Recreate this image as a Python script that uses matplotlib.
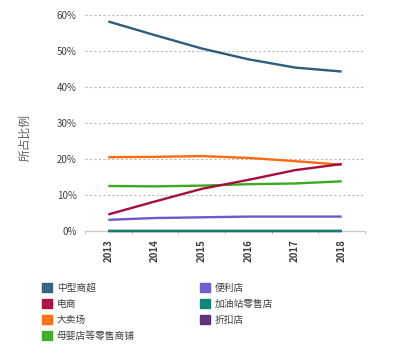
import matplotlib
matplotlib.use("Agg")
import matplotlib.pyplot as plt
from matplotlib.patches import Patch
from matplotlib.ticker import FixedLocator

plt.rcParams['font.family'] = ['Noto Sans CJK SC', 'DejaVu Sans']

years = ["2013", "2014", "2015", "2016", "2017", "2018"]
series_names = ["中型商超", "电商", "大卖场", "母婴店等零售商铺", "便利店", "加油站零售店", "折扣店"]
midsize = [58.2, 54.4, 50.7, 47.7, 45.4, 44.3]
ecommerce = [4.6, 8.2, 11.7, 14.2, 16.9, 18.6]
hypermarket = [20.5, 20.6, 20.8, 20.3, 19.4, 18.4]
mother_baby = [12.5, 12.4, 12.6, 13.0, 13.2, 13.8]
convenience = [3.1, 3.6, 3.8, 4.0, 4.0, 4.0]
gas_station = [0.0, 0.0, 0.0, 0.0, 0.0, 0.0]
discount = [0.0, 0.0, 0.0, 0.0, 0.0, 0.0]
yticks = [0, 10, 20, 30, 40, 50, 60]

values = [midsize, ecommerce, hypermarket, mother_baby, convenience, gas_station, discount]
colors = ["#2D5E7E", "#A50E3C", "#FF6A10", "#3BAA23", "#6A5ACD", "#0F7F74", "#5A2A73"]

fig = plt.figure(figsize=(3.94, 3.54), dpi=100)
ax = fig.add_axes([0.2157, 0.3475, 0.7107, 0.6101])

x = list(range(len(years)))
ax.axhline(0, color="#CCCCCC", lw=1.0, zorder=1, clip_on=False)
for yv in yticks[1:]:
    ax.axhline(yv, color="#BBBBBB", lw=0.8, ls=(0, (2, 2)), zorder=1, clip_on=False)

order = [6, 5, 4, 3, 2, 1, 0]
for i in order:
    ax.plot(x, values[i], color=colors[i], lw=1.7, zorder=3 if i != 6 else 2,
            solid_capstyle="butt", clip_on=False)

ax.set_xlim(-0.5, len(years) - 0.5)
ax.set_ylim(0, 60)
ax.set_yticks(yticks)
ax.set_yticklabels([f"{v}%" for v in yticks], fontsize=7, color="#404040")
ax.set_xticks(x)
ax.set_xticklabels(years, rotation=90, fontsize=7, color="#404040", fontweight="bold")
ax.tick_params(axis="x", which="major", length=0, pad=6)
ax.tick_params(axis="y", length=0, pad=6)
ax.xaxis.set_minor_locator(FixedLocator([v - 0.5 for v in range(len(years) + 1)]))
ax.tick_params(axis="x", which="minor", length=2, color="#BBBBBB", direction="out")
for s in ax.spines.values():
    s.set_visible(False)
ax.set_ylabel("所占比例", fontsize=8.5, color="#606060")
ax.yaxis.set_label_coords(-0.19, 0.435)

handles = [Patch(facecolor=c, edgecolor=c, alpha=0.95) for c in colors]
fig.legend(handles, series_names,
           ncol=2, loc="upper left", bbox_to_anchor=(0.085, 0.225), frameon=False,
           fontsize=7, handlelength=1.0, handleheight=1.0, handletextpad=0.5,
           columnspacing=6.7, labelspacing=0.6, labelcolor="#404040")

fig.savefig("out.png", dpi=100)
